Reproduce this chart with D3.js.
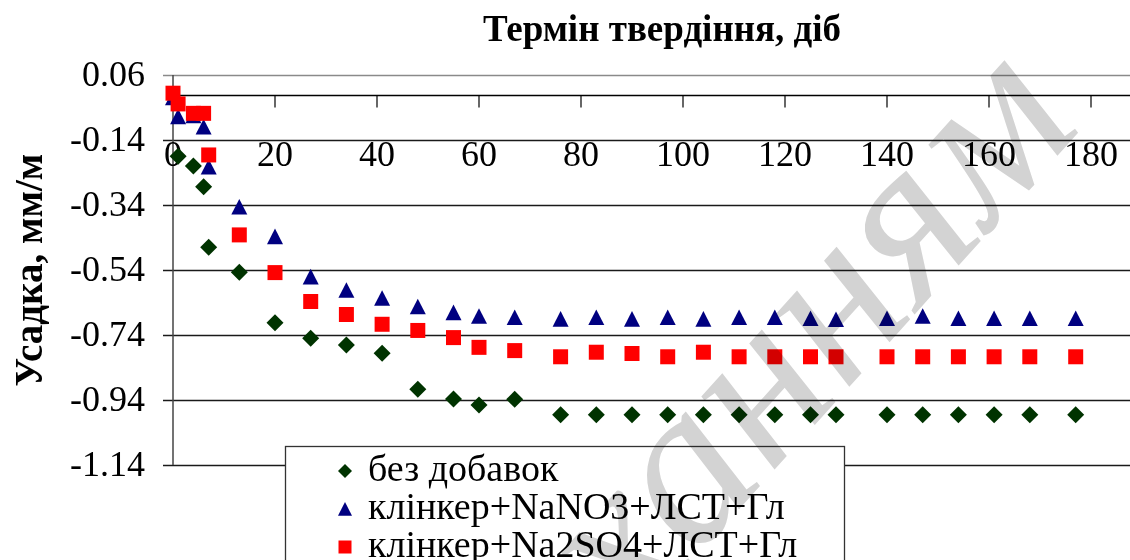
<!DOCTYPE html>
<html>
<head>
<meta charset="utf-8">
<script src="https://cdn.jsdelivr.net/npm/d3@7"></script>
<style>
  html, body { margin: 0; padding: 0; background: #fff; }
  svg { display: block; }
  text { font-family: "Liberation Serif", "Times New Roman", serif; }
</style>
</head>
<body>
<svg id="chart" width="1130" height="560"></svg>
<script>
// Curing age, days
const days = [0, 1, 4, 6, 7, 13, 20, 27, 34, 41, 48, 55, 60, 67,
  76, 83, 90, 97, 104, 111, 118, 125, 130, 140, 147, 154, 161, 168, 177];

// Shrinkage, mm/m
const plain = [null, -0.19, -0.22, -0.284, -0.47, -0.547, -0.702, -0.75, -0.771, -0.796, -0.907, -0.937, -0.955, -0.938,
  -0.985, -0.985, -0.985, -0.985, -0.985, -0.985, -0.985, -0.985, -0.985, -0.985, -0.985, -0.985, -0.985, -0.985, -0.985];
const nitrate = [-0.01, -0.068, -0.065, -0.10, -0.223, -0.346, -0.437, -0.561, -0.602, -0.627, -0.653, -0.671, -0.682, -0.686,
  -0.691, -0.686, -0.691, -0.686, -0.691, -0.686, -0.686, -0.689, -0.692, -0.689, -0.682, -0.689, -0.689, -0.689, -0.689];
const sulfate = [0.004, -0.029, -0.058, -0.058, -0.186, -0.432, -0.548, -0.637, -0.677, -0.707, -0.726, -0.748, -0.778, -0.788,
  -0.807, -0.793, -0.797, -0.807, -0.793, -0.807, -0.807, -0.807, -0.807, -0.807, -0.807, -0.807, -0.807, -0.807, -0.807];

const seriesNames = ["без добавок", "клінкер+NaNO3+ЛСТ+Гл", "клінкер+Na2SO4+ЛСТ+Гл"];
const xTicks = [0, 20, 40, 60, 80, 100, 120, 140, 160, 180];
const yTicks = [0.06, -0.14, -0.34, -0.54, -0.74, -0.94, -1.14];
const xTitle = "Термін твердіння, діб";
const yTitle = "Усадка, мм/м";
const watermark = "ханням";

// Marker shapes drawn as custom d3 symbol types (size = full width in px)
const diamond = { draw(ctx, s) { const r = s / 2; ctx.moveTo(0, -r); ctx.lineTo(r, 0); ctx.lineTo(0, r); ctx.lineTo(-r, 0); ctx.closePath(); } };
const triangle = { draw(ctx, s) { const r = s / 2; ctx.moveTo(0, -r); ctx.lineTo(r, r * 0.95); ctx.lineTo(-r, r * 0.95); ctx.closePath(); } };
const square = { draw(ctx, s) { const r = s / 2; ctx.rect(-r, -r, s, s); } };

const series = [
  { name: seriesNames[0], values: plain,   color: "#003300", type: diamond,  size: 17, legendSize: 14 },
  { name: seriesNames[1], values: nitrate, color: "#000080", type: triangle, size: 16, legendSize: 14 },
  { name: seriesNames[2], values: sulfate, color: "#ff0000", type: square,   size: 15, legendSize: 13 }
];

const svg = d3.select("#chart");

const x = d3.scaleLinear().domain([0, 180]).range([173, 1091]);
const y = d3.scaleLinear().domain([-1.14, 0.06]).range([465, 75]);
const rightEdge = 1130;

// Horizontal gridlines with short tick marks left of the value axis
svg.append("g").selectAll("line").data(yTicks).join("line")
  .attr("x1", 163).attr("x2", rightEdge)
  .attr("y1", d => Math.round(y(d)) + 0.5).attr("y2", d => Math.round(y(d)) + 0.5)
  .attr("stroke", (d, i) => i === 0 ? "#8a8a8a" : "#1a1a1a").attr("stroke-width", 1.3);

// Value axis line
svg.append("line")
  .attr("x1", x(0)).attr("x2", x(0)).attr("y1", y(0.06)).attr("y2", y(-1.14))
  .attr("stroke", "#444").attr("stroke-width", 1.5);

// Value axis labels
svg.append("g").selectAll("text").data(yTicks).join("text")
  .attr("x", 145).attr("y", d => y(d) + 3)
  .attr("text-anchor", "end").attr("dominant-baseline", "middle")
  .attr("font-size", 36).attr("fill", "#000")
  .text(d => d.toFixed(2));

// Category (days) axis at zero, with downward ticks
const xAxisY = Math.round(y(0)) + 0.5;
svg.append("line")
  .attr("x1", x(0)).attr("x2", rightEdge).attr("y1", xAxisY).attr("y2", xAxisY)
  .attr("stroke", "#000").attr("stroke-width", 1.3);
svg.append("g").selectAll("line").data(xTicks.filter(d => d > 0)).join("line")
  .attr("x1", d => x(d)).attr("x2", d => x(d)).attr("y1", xAxisY).attr("y2", xAxisY + 12)
  .attr("stroke", "#000").attr("stroke-width", 1.2);
svg.append("g").selectAll("text").data(xTicks).join("text")
  .attr("x", d => x(d)).attr("y", 166)
  .attr("text-anchor", "middle")
  .attr("font-size", 36).attr("fill", "#000")
  .text(d => d);

// Axis titles
svg.append("text")
  .attr("x", 662).attr("y", 41)
  .attr("text-anchor", "middle").attr("font-size", 37).attr("font-weight", "bold")
  .text(xTitle);
svg.append("text")
  .attr("transform", "translate(42,270) rotate(-90)")
  .attr("text-anchor", "middle").attr("font-size", 39).attr("font-weight", "bold")
  .text(yTitle);

// Data points
series.forEach(s => {
  const pts = days.map((d, i) => ({ d, v: s.values[i] })).filter(p => p.v !== null);
  svg.append("g").selectAll("path").data(pts).join("path")
    .attr("transform", p => `translate(${x(p.d)},${y(p.v)})`)
    .attr("d", d3.symbol().type(s.type).size(s.size))
    .attr("fill", s.color);
});

// Legend
const lg = svg.append("g");
lg.append("rect")
  .attr("x", 285.5).attr("y", 446.5).attr("width", 559).attr("height", 140)
  .attr("fill", "#fff").attr("stroke", "#333").attr("stroke-width", 1.3);
series.forEach((s, i) => {
  const cy = 471 + i * 38;
  lg.append("path")
    .attr("transform", `translate(345,${cy})`)
    .attr("d", d3.symbol().type(s.type).size(s.legendSize))
    .attr("fill", s.color);
  lg.append("text")
    .attr("x", 368).attr("y", cy + 1)
    .attr("dominant-baseline", "middle")
    .attr("font-size", 38).attr("fill", "#000")
    .text(s.name);
});

// Document watermark, multiplied over everything beneath it
svg.append("text")
  .attr("transform", "translate(1085,125) rotate(-48)")
  .attr("text-anchor", "end")
  .attr("font-size", 225).attr("font-style", "italic")
  .attr("fill", "#d3d3d3")
  .style("mix-blend-mode", "multiply")
  .text(watermark);
</script>
</body>
</html>
